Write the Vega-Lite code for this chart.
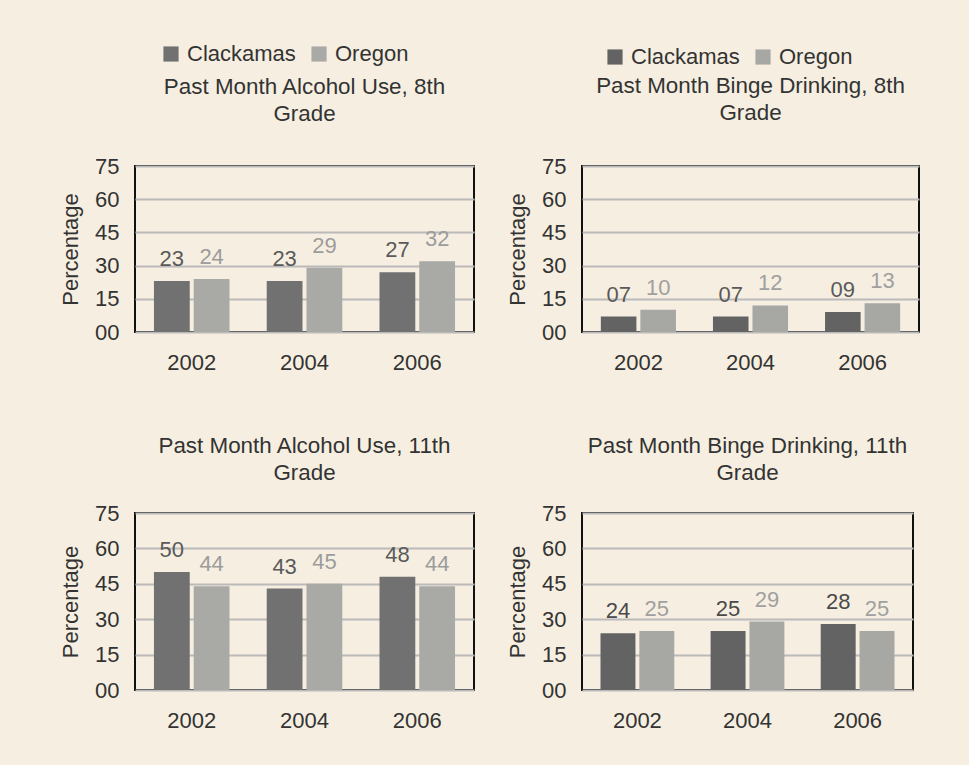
{
  "$schema": "https://vega.github.io/schema/vega-lite/v6.json",
  "background": "#f6efe1",
  "padding": {"left": 58, "top": 42, "right": 53, "bottom": 34},
  "datasets": {
    "d": [
      {"panel": "a8", "year": "2002", "region": "Clackamas", "value": 23},
      {"panel": "a8", "year": "2002", "region": "Oregon", "value": 24},
      {"panel": "a8", "year": "2004", "region": "Clackamas", "value": 23},
      {"panel": "a8", "year": "2004", "region": "Oregon", "value": 29},
      {"panel": "a8", "year": "2006", "region": "Clackamas", "value": 27},
      {"panel": "a8", "year": "2006", "region": "Oregon", "value": 32},
      {"panel": "b8", "year": "2002", "region": "Clackamas", "value": 7},
      {"panel": "b8", "year": "2002", "region": "Oregon", "value": 10},
      {"panel": "b8", "year": "2004", "region": "Clackamas", "value": 7},
      {"panel": "b8", "year": "2004", "region": "Oregon", "value": 12},
      {"panel": "b8", "year": "2006", "region": "Clackamas", "value": 9},
      {"panel": "b8", "year": "2006", "region": "Oregon", "value": 13},
      {"panel": "a11", "year": "2002", "region": "Clackamas", "value": 50},
      {"panel": "a11", "year": "2002", "region": "Oregon", "value": 44},
      {"panel": "a11", "year": "2004", "region": "Clackamas", "value": 43},
      {"panel": "a11", "year": "2004", "region": "Oregon", "value": 45},
      {"panel": "a11", "year": "2006", "region": "Clackamas", "value": 48},
      {"panel": "a11", "year": "2006", "region": "Oregon", "value": 44},
      {"panel": "b11", "year": "2002", "region": "Clackamas", "value": 24},
      {"panel": "b11", "year": "2002", "region": "Oregon", "value": 25},
      {"panel": "b11", "year": "2004", "region": "Clackamas", "value": 25},
      {"panel": "b11", "year": "2004", "region": "Oregon", "value": 29},
      {"panel": "b11", "year": "2006", "region": "Clackamas", "value": 28},
      {"panel": "b11", "year": "2006", "region": "Oregon", "value": 25}
    ]
  },
  "columns": 2,
  "spacing": {"row": 59, "column": 30},
  "resolve": {
    "scale": {"color": "independent", "x": "independent", "y": "independent", "xOffset": "independent"},
    "legend": {"color": "independent"}
  },
  "config": {
    "font": "Liberation Sans",
    "view": {"stroke": "#111111", "strokeWidth": 2},
    "axis": {
      "labelFont": "Liberation Sans", "labelFontSize": 22, "labelColor": "#333333",
      "titleFont": "Liberation Sans", "titleFontSize": 22, "titleFontWeight": "normal", "titleColor": "#333333",
      "ticks": false, "domain": false
    },
    "axisY": {"grid": true, "gridColor": "#bababa", "gridWidth": 2, "labelPadding": 16, "titlePadding": 12},
    "axisX": {"grid": false, "labelPadding": 20, "labelAngle": 0},
    "title": {"font": "Liberation Sans", "fontSize": 22.4, "fontWeight": "normal", "color": "#333333", "lineHeight": 27, "anchor": "middle"},
    "legend": {
      "labelFont": "Liberation Sans", "labelFontSize": 22, "labelColor": "#333333",
      "symbolType": "square", "symbolSize": 230, "symbolStrokeWidth": 0,
      "orient": "none", "direction": "horizontal", "columns": 2, "columnPadding": 12,
      "labelOffset": 5, "padding": 0
    }
  },
  "concat": [
    {
      "width": 339, "height": 166,
      "title": {"text": ["Past Month Alcohol Use, 8th", "Grade"], "offset": -82},
      "data": {"name": "d"},
      "transform": [{"filter": "datum.panel === 'a8'"}],
      "encoding": {
        "x": {"field": "year", "type": "nominal", "scale": {"paddingInner": 0.33, "paddingOuter": 0.168}, "axis": {"title": null}},
        "xOffset": {"field": "region", "type": "nominal", "scale": {"paddingInner": 0.1}},
        "y": {"field": "value", "type": "quantitative", "scale": {"domain": [0, 75]}, "axis": {"values": [0, 15, 30, 45, 60, 75], "format": "02d", "title": "Percentage"}}
      },
      "layer": [
        {"mark": "bar", "encoding": {"color": {"field": "region", "type": "nominal", "scale": {"domain": ["Clackamas", "Oregon"], "range": ["#717171", "#a9a9a5"]}, "legend": {"title": null, "legendX": 25, "legendY": -123}}}},
        {"mark": {"type": "text", "dy": -15, "baseline": "alphabetic", "fontSize": 22, "font": "Liberation Sans"},
         "encoding": {"text": {"field": "value", "type": "quantitative", "format": "02d"},
                      "color": {"condition": {"test": "datum.region === 'Clackamas'", "value": "#5a5a5a"}, "value": "#9c9c9c"}}}
      ]
    },
    {
      "width": 337, "height": 166,
      "title": {"text": ["Past Month Binge Drinking, 8th", "Grade"], "offset": -78},
      "data": {"name": "d"},
      "transform": [{"filter": "datum.panel === 'b8'"}],
      "encoding": {
        "x": {"field": "year", "type": "nominal", "scale": {"paddingInner": 0.33, "paddingOuter": 0.168}, "axis": {"title": null}},
        "xOffset": {"field": "region", "type": "nominal", "scale": {"paddingInner": 0.1}},
        "y": {"field": "value", "type": "quantitative", "scale": {"domain": [0, 75]}, "axis": {"values": [0, 15, 30, 45, 60, 75], "format": "02d", "title": "Percentage"}}
      },
      "layer": [
        {"mark": "bar", "encoding": {"color": {"field": "region", "type": "nominal", "scale": {"domain": ["Clackamas", "Oregon"], "range": ["#636363", "#a7a7a3"]}, "legend": {"title": null, "legendX": 22, "legendY": -120}}}},
        {"mark": {"type": "text", "dy": -15, "baseline": "alphabetic", "fontSize": 22, "font": "Liberation Sans"},
         "encoding": {"text": {"field": "value", "type": "quantitative", "format": "02d"},
                      "color": {"condition": {"test": "datum.region === 'Clackamas'", "value": "#5a5a5a"}, "value": "#a0a0a0"}}}
      ]
    },
    {
      "width": 339, "height": 177,
      "title": {"text": ["Past Month Alcohol Use, 11th", "Grade"], "offset": 18},
      "data": {"name": "d"},
      "transform": [{"filter": "datum.panel === 'a11'"}],
      "encoding": {
        "x": {"field": "year", "type": "nominal", "scale": {"paddingInner": 0.33, "paddingOuter": 0.168}, "axis": {"title": null}},
        "xOffset": {"field": "region", "type": "nominal", "scale": {"paddingInner": 0.1}},
        "y": {"field": "value", "type": "quantitative", "scale": {"domain": [0, 75]}, "axis": {"values": [0, 15, 30, 45, 60, 75], "format": "02d", "title": "Percentage"}}
      },
      "layer": [
        {"mark": "bar", "encoding": {"color": {"field": "region", "type": "nominal", "scale": {"domain": ["Clackamas", "Oregon"], "range": ["#717171", "#a9a9a5"]}, "legend": null}}},
        {"mark": {"type": "text", "dy": -15, "baseline": "alphabetic", "fontSize": 22, "font": "Liberation Sans"},
         "encoding": {"text": {"field": "value", "type": "quantitative", "format": "02d"},
                      "color": {"condition": {"test": "datum.region === 'Clackamas'", "value": "#5a5a5a"}, "value": "#9c9c9c"}}}
      ]
    },
    {
      "width": 331, "height": 177,
      "title": {"text": ["Past Month Binge Drinking, 11th", "Grade"], "offset": 18},
      "data": {"name": "d"},
      "transform": [{"filter": "datum.panel === 'b11'"}],
      "encoding": {
        "x": {"field": "year", "type": "nominal", "scale": {"paddingInner": 0.33, "paddingOuter": 0.168}, "axis": {"title": null}},
        "xOffset": {"field": "region", "type": "nominal", "scale": {"paddingInner": 0.1}},
        "y": {"field": "value", "type": "quantitative", "scale": {"domain": [0, 75]}, "axis": {"values": [0, 15, 30, 45, 60, 75], "format": "02d", "title": "Percentage"}}
      },
      "layer": [
        {"mark": "bar", "encoding": {"color": {"field": "region", "type": "nominal", "scale": {"domain": ["Clackamas", "Oregon"], "range": ["#636363", "#a7a7a3"]}, "legend": null}}},
        {"mark": {"type": "text", "dy": -15, "baseline": "alphabetic", "fontSize": 22, "font": "Liberation Sans"},
         "encoding": {"text": {"field": "value", "type": "quantitative", "format": "02d"},
                      "color": {"condition": {"test": "datum.region === 'Clackamas'", "value": "#4a4a4a"}, "value": "#a0a0a0"}}}
      ]
    }
  ]
}
